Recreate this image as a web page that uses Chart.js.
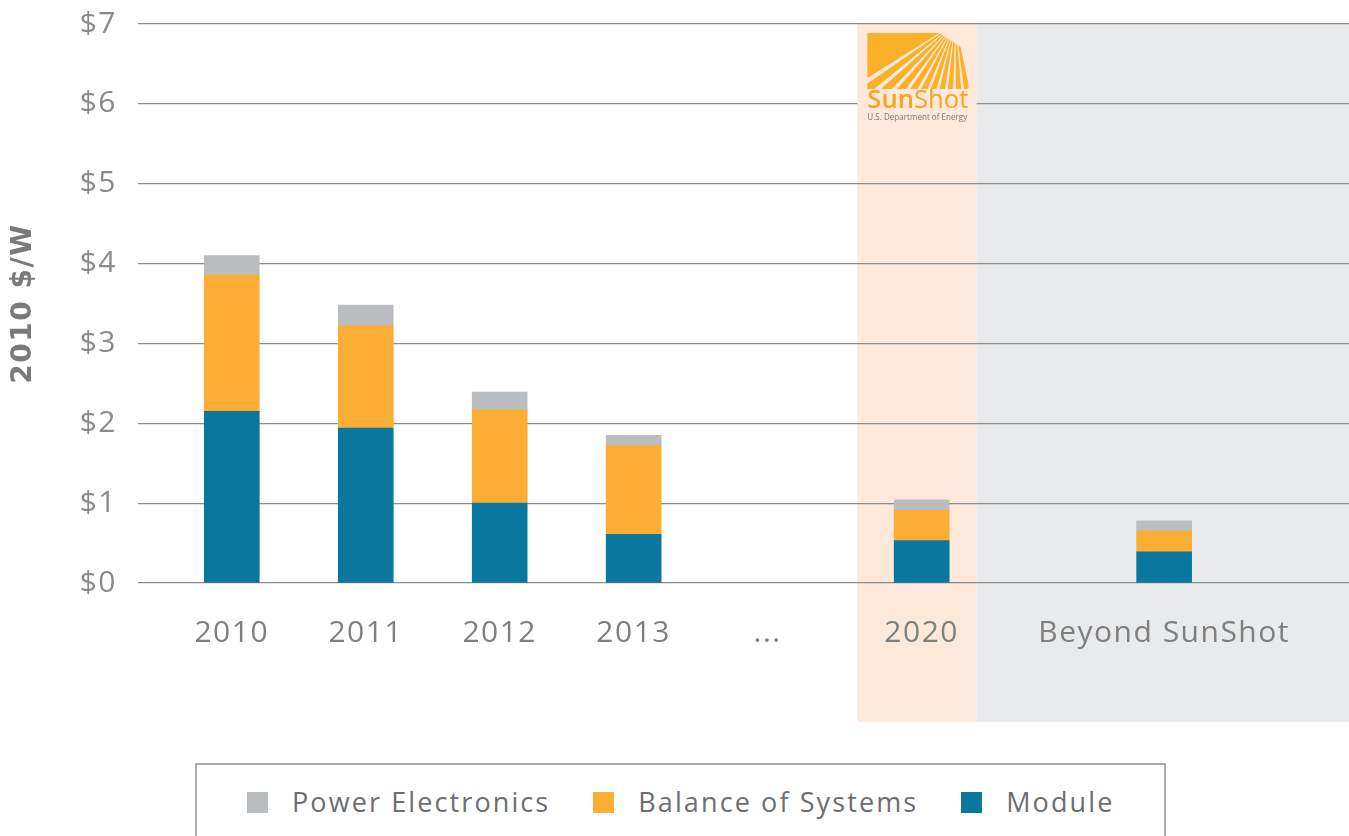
<!DOCTYPE html>
<html>
<head>
<meta charset="utf-8">
<title>Installed PV system price, 2010 $/W</title>
<script src="https://cdn.jsdelivr.net/npm/chart.js@4.4.1/dist/chart.umd.min.js"></script>
<style>
  body { margin: 0; background: #fff; overflow: hidden; font-family: 'Open Sans', sans-serif; }
  #wrap { position: relative; width: 1349px; height: 836px; }
  #chart-box { position: absolute; left: 0; top: 0; width: 1349px; height: 740px; }
  #legend {
    position: absolute; left: 195px; top: 763px; width: 971px; height: 110px;
    box-sizing: border-box; border: 2px solid #ababab;
    display: flex; align-items: flex-start; padding: 26px 0 0 50px;
  }
  .item { display: flex; align-items: center; margin-right: 43px; color: #6d6e71;
          font-size: 27px; font-weight: 400; letter-spacing: 2.1px; line-height: 22px; }
  .item i { display: inline-block; width: 21px; height: 21px; margin-right: 24px; }
</style>
</head>
<body>
<div id="wrap">
  <div id="chart-box"><canvas id="costChart"></canvas></div>
  <div id="legend"></div>
</div>
<script>
// price per watt, 2010 dollars
const categories = ['2010', '2011', '2012', '2013', '...', '2020', 'Beyond SunShot'];
const moduleCost = [2.15, 1.94, 1.00, 0.61, null, 0.53, 0.39];
const bosCost = [1.71, 1.28, 1.17, 1.11, null, 0.38, 0.26];
const powerElecCost = [0.24, 0.26, 0.22, 0.13, null, 0.13, 0.13];
const yMax = 7;

// where each category sits on the x axis, and the two shaded bands
const slots = [0, 1, 2, 3, 4, 5.15, 6.96];
const xRange = [-0.7, 8.34];
const sunshotBand = [4.67, 5.56];
const beyondBand = [5.56, 8.34];
const bandBottom = 722;

const colors = { module: '#0a789e', bos: '#fcad33', pe: '#babdc0' };

function points(values) {
  const out = [];
  values.forEach((v, i) => { if (v !== null) out.push({ x: slots[i], y: v }); });
  return out;
}

// wider tracking on all canvas text
const spacing = {
  id: 'spacing',
  beforeUpdate(c) { c.ctx.letterSpacing = '1.5px'; },
  beforeDraw(c) { c.ctx.letterSpacing = '1.5px'; }
};

// shaded 2020 / beyond bands behind the grid
const bands = {
  id: 'bands',
  beforeDraw(c) {
    const ctx = c.ctx, xs = c.scales.x, top = c.chartArea.top;
    ctx.save();
    ctx.fillStyle = '#fde8d9';
    let a = xs.getPixelForValue(sunshotBand[0]), b = xs.getPixelForValue(sunshotBand[1]);
    ctx.fillRect(a, top, b - a, bandBottom - top);
    ctx.fillStyle = '#e9eaec';
    a = xs.getPixelForValue(beyondBand[0]); b = xs.getPixelForValue(beyondBand[1]);
    ctx.fillRect(a, top, b - a, bandBottom - top);
    ctx.restore();
  }
};

// SunShot mark at the top of the 2020 band
const logo = {
  id: 'logo',
  beforeDatasetsDraw(c) {
    const ctx = c.ctx, xs = c.scales.x, top = c.chartArea.top;
    const bl = xs.getPixelForValue(sunshotBand[0]), br = xs.getPixelForValue(sunshotBand[1]);
    const L = bl + 10, T = top + 9, W = 101;
    ctx.save();
    ctx.letterSpacing = '0px';
    ctx.fillStyle = '#fde8d9';
    ctx.fillRect(bl, top + 3, br - bl, 98);

    ctx.fillStyle = '#fbb02a';
    ctx.beginPath();
    ctx.moveTo(L, T); ctx.lineTo(L + 72, T); ctx.lineTo(L, T + 45); ctx.closePath();
    ctx.fill();

    ctx.save();
    ctx.beginPath();
    ctx.moveTo(L, T); ctx.lineTo(L + 72, T); ctx.lineTo(L + W, T + 19);
    ctx.lineTo(L + W, T + 56); ctx.lineTo(L, T + 56); ctx.closePath();
    ctx.clip();
    const fx = L + 88, fy = T - 10, R = 200;
    for (let a = 145.5; a > 78; a -= 7) {
      const a1 = a * Math.PI / 180, a2 = (a - 4.6) * Math.PI / 180;
      ctx.beginPath();
      ctx.moveTo(fx, fy);
      ctx.lineTo(fx + R * Math.cos(a1), fy + R * Math.sin(a1));
      ctx.lineTo(fx + R * Math.cos(a2), fy + R * Math.sin(a2));
      ctx.closePath();
      ctx.fill();
    }
    ctx.restore();

    // word mark
    ctx.textBaseline = 'alphabetic';
    ctx.textAlign = 'left';
    let size = 22;
    ctx.font = `600 ${size}px "Open Sans"`;
    const w1 = ctx.measureText('Sun').width;
    ctx.font = `400 ${size}px "Open Sans"`;
    const w2 = ctx.measureText('Shot').width;
    size = size * W / (w1 + w2);
    ctx.fillStyle = '#f7a51f';
    ctx.font = `600 ${size}px "Open Sans"`;
    ctx.fillText('Sun', L, T + 75);
    const sw = ctx.measureText('Sun').width;
    ctx.font = `400 ${size}px "Open Sans"`;
    ctx.fillText('Shot', L + sw, T + 75);

    ctx.font = '8px "Open Sans"';
    const sub = 'U.S. Department of Energy';
    const sc = 100 / ctx.measureText(sub).width;
    ctx.font = `${8 * sc}px "Open Sans"`;
    ctx.fillStyle = '#7a7a7a';
    ctx.fillText(sub, L, T + 87);
    ctx.restore();
  }
};

const tickFont = { family: 'Open Sans', size: 30, weight: 400 };

const chart = new Chart(document.getElementById('costChart'), {
  type: 'bar',
  data: {
    datasets: [
      { label: 'Module', data: points(moduleCost), backgroundColor: colors.module },
      { label: 'Balance of Systems', data: points(bosCost), backgroundColor: colors.bos },
      { label: 'Power Electronics', data: points(powerElecCost), backgroundColor: colors.pe }
    ]
  },
  options: {
    responsive: true,
    maintainAspectRatio: false,
    animation: false,
    layout: { padding: { top: 24, right: 0, bottom: 0, left: 0 } },
    datasets: { bar: { barThickness: 55, borderWidth: 0 } },
    plugins: { legend: { display: false }, tooltip: { enabled: false } },
    scales: {
      x: {
        type: 'linear',
        stacked: true,
        min: xRange[0],
        max: xRange[1],
        offset: false,
        grid: { display: false },
        border: { display: false },
        afterBuildTicks: s => { s.ticks = slots.map(v => ({ value: v })); },
        afterFit: s => { s.height = 740 - 583; s.paddingLeft = 0; s.paddingRight = 0; },
        ticks: {
          autoSkip: false, maxRotation: 0, minRotation: 0,
          padding: 24, color: '#7f7f7f', font: tickFont,
          callback: (v, i) => categories[i]
        }
      },
      y: {
        stacked: true,
        min: 0,
        max: yMax,
        afterFit: s => { s.width = 138; s.paddingTop = 0; s.paddingBottom = 0; },
        grid: { color: '#8c8c8c', lineWidth: 1.2, drawTicks: false },
        border: { display: false },
        ticks: {
          stepSize: 1, padding: 21, color: '#8a8a8a', font: tickFont,
          callback: v => '$' + v
        },
        title: {
          display: true, text: '2010 $/W', color: '#7a7a7a',
          font: { family: 'DejaVu Sans', size: 28, weight: 'bold' },
          padding: { top: 7, bottom: 0 }
        }
      }
    }
  },
  plugins: [spacing, bands, logo]
});

// legend, top of the stack first
const legend = document.getElementById('legend');
chart.data.datasets.slice().reverse().forEach(ds => {
  const item = document.createElement('div');
  item.className = 'item';
  item.innerHTML = `<i style="background:${ds.backgroundColor}"></i><span>${ds.label}</span>`;
  legend.appendChild(item);
});
</script>
</body>
</html>
